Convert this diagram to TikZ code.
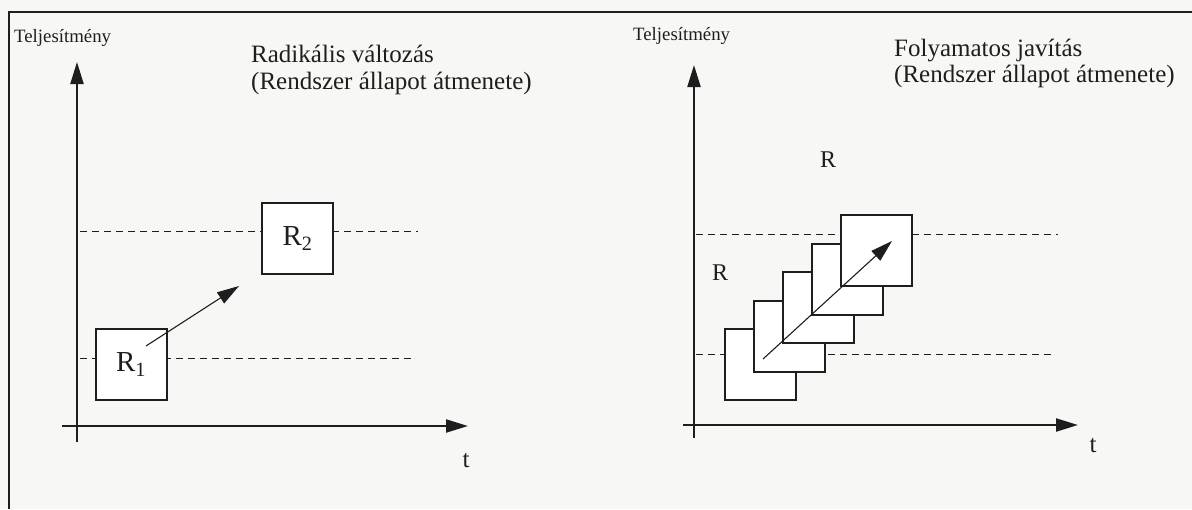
\documentclass[tikz,border=0pt]{standalone}
\usepackage{fontspec}
\setmainfont{Liberation Serif}
\usetikzlibrary{arrows.meta}
\definecolor{ink}{HTML}{1E1E1E}
\definecolor{paper}{HTML}{F7F7F5}
\begin{document}
\begin{tikzpicture}[x=1pt,y=-1pt,
  ink/.style={draw=ink,line width=2pt},
  axis/.style={draw=ink,line width=2.2pt,-{Triangle[length=22pt,width=13pt]}},
  diag/.style={draw=ink,line width=1.1pt,-{Triangle[length=22pt,width=13pt]}},
  guideline/.style={draw=ink,line width=1pt,dash pattern=on 7pt off 5pt},
  statebox/.style={draw=ink,line width=2pt,fill=white,minimum width=71pt,minimum height=71pt,inner sep=0pt,text=ink},
  big/.style={text=ink,font=\fontsize{25}{30}\selectfont,inner sep=0pt},
  small/.style={text=ink,font=\fontsize{18.8}{22}\selectfont,inner sep=0pt},
  rlab/.style={text=ink,font=\fontsize{24}{28}\selectfont,inner sep=0pt},
  blab/.style={font=\fontsize{29}{32}\selectfont}
]
\useasboundingbox (0,0) rectangle (1192,509);
\fill[paper] (0,0) rectangle (1192,509);
% frame
\coordinate (fb) at (9,509);
\coordinate (fc) at (9,12);
\coordinate (fr) at (1192,12);
\draw[ink,line width=2.4pt] (fb) -- (fc) -- (fr);

% ---------- left panel ----------
\node[small,anchor=base west] (ly) at (14,42) {Teljesítmény};
\node[big,anchor=base west] (lt1) at (251,62) {Radikális változás};
\node[big,anchor=base west] (lt2) at (251,89) {(Rendszer állapot átmenete)};
\coordinate (lyb) at (77,442);
\coordinate (lyt) at (77,62);
\coordinate (lxl) at (62,426);
\coordinate (lxr) at (468,426);
\draw[axis] (lyb) -- (lyt);
\draw[axis] (lxl) -- (lxr);
\node[big,anchor=base] (lt) at (466,467) {t};
\coordinate (ld1a) at (80,231);
\coordinate (ld1b) at (418,231);
\coordinate (ld2a) at (80,358);
\coordinate (ld2b) at (411,358);
\draw[guideline] (ld1a) -- (ld1b);
\draw[guideline] (ld2a) -- (ld2b);
\node[statebox,blab] (r1) at (131,364.5) {R\textsubscript{1}};
\node[statebox,blab] (r2) at (297.5,238.5) {R\textsubscript{2}};
\coordinate (la) at (146,346);
\coordinate (lb) at (239,286);
\draw[diag] (la) -- (lb);

% ---------- right panel ----------
\node[small,anchor=base west] (ry) at (633,40) {Teljesítmény};
\node[big,anchor=base west] (rt1) at (894,56) {Folyamatos javítás};
\node[big,anchor=base west] (rt2) at (894,82) {(Rendszer állapot átmenete)};
\coordinate (ryb) at (694,438);
\coordinate (ryt) at (694,65);
\coordinate (rxl) at (683,425);
\coordinate (rxr) at (1078,425);
\draw[axis] (ryb) -- (ryt);
\draw[axis] (rxl) -- (rxr);
\node[big,anchor=base] (rtt) at (1093,452) {t};
\coordinate (rd1a) at (696,234);
\coordinate (rd1b) at (1058,234);
\coordinate (rd2a) at (696,354);
\coordinate (rd2b) at (1053,354);
\draw[guideline] (rd1a) -- (rd1b);
\draw[guideline] (rd2a) -- (rd2b);
\node[statebox] (s1) at (760.5,364.5) {};
\node[statebox] (s2) at (789.5,336) {};
\node[statebox] (s3) at (818.5,307.5) {};
\node[statebox] (s4) at (847.5,279) {};
\node[statebox] (s5) at (876.5,250.5) {};
\coordinate (ra) at (763,359);
\coordinate (rb) at (892,241);
\draw[diag] (ra) -- (rb);
\node[rlab] (rr1) at (828,160) {R};
\node[rlab] (rr2) at (720,273) {R};
\end{tikzpicture}
\end{document}
